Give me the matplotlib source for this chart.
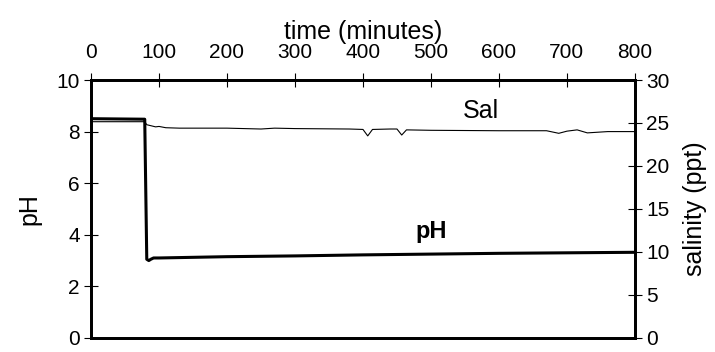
import numpy as np
import matplotlib.pyplot as plt

plt.rcParams['font.family'] = ['Liberation Sans', 'DejaVu Sans']

# pH readings (minutes, pH)
ph_time = [0, 79, 82, 85, 88, 92, 100, 200, 300, 400, 500, 600, 700, 800]
ph_vals = [8.5, 8.48, 3.05, 3.0, 3.05, 3.1, 3.1, 3.15, 3.18, 3.22, 3.25, 3.28, 3.3, 3.32]

# salinity readings (minutes, ppt)
sal_time = [0, 79, 82, 95, 100, 110, 130, 200, 250, 270, 300, 380, 400, 407,
            414, 440, 450, 457, 464, 500, 600, 670, 688, 700, 715, 730, 740,
            760, 800]
sal_vals = [25.15, 25.15, 24.8, 24.55, 24.6, 24.45, 24.4, 24.4, 24.3, 24.4,
            24.35, 24.3, 24.25, 23.5, 24.25, 24.3, 24.3, 23.6, 24.2, 24.15,
            24.1, 24.1, 23.8, 24.05, 24.2, 23.85, 23.9, 24.0, 24.0]

fig = plt.figure(figsize=(7.15, 3.52), dpi=100)
ax = fig.add_axes([0.1273, 0.04, 0.7607, 0.7327])
ax2 = ax.twinx()

ax.plot(ph_time, ph_vals, color='black', lw=2.2, zorder=3)
ax2.plot(sal_time, sal_vals, color='black', lw=0.8)

ax.set_xlim(0, 800)
ax.set_ylim(0, 10)
ax2.set_ylim(0, 30)
ax.set_xticks(np.arange(0, 801, 100))
ax.set_yticks(np.arange(0, 11, 2))
ax2.set_yticks(np.arange(0, 31, 5))

ax.xaxis.tick_top()
ax.xaxis.set_label_position('top')
ax.tick_params(axis='x', direction='inout', length=10, width=0.8, labelsize=15, pad=8)
ax.tick_params(axis='y', direction='inout', length=10, width=0.8, labelsize=15, pad=3)
ax2.tick_params(axis='y', direction='inout', length=10, width=0.8, labelsize=15, pad=3)

for a in (ax, ax2):
    for s in a.spines.values():
        s.set_linewidth(2)

ax.set_xlabel('time (minutes)', fontsize=18, labelpad=3)
ax.set_ylabel('pH', fontsize=18, labelpad=11)
ax2.set_ylabel('salinity (ppt)', fontsize=18, labelpad=10)

ax.text(573, 8.53, 'Sal', fontsize=18, ha='center', va='baseline')
ax.text(501, 3.88, 'pH', fontsize=17, fontweight='bold', ha='center', va='baseline')

fig.savefig('out.png', dpi=100)
